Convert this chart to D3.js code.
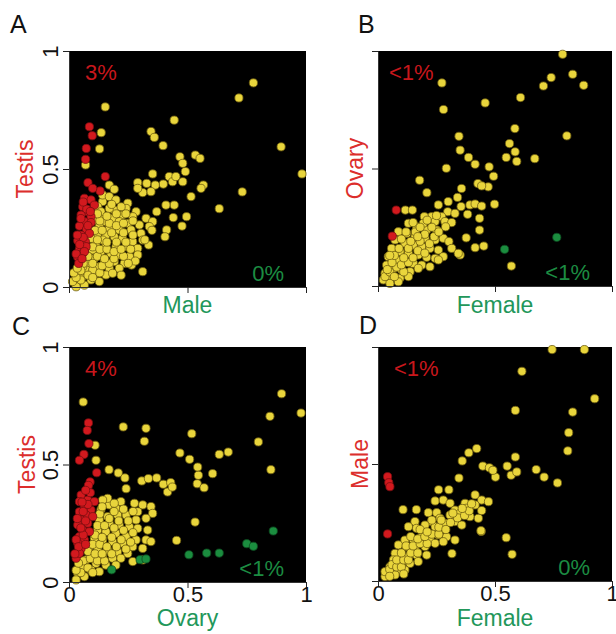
<!DOCTYPE html>
<html>
<head>
<meta charset="utf-8">
<script src="https://cdn.jsdelivr.net/npm/d3@7"></script>
<style>
  body { margin: 0; background: #fff; }
  svg { display: block; font-family: "Liberation Sans", Arial, sans-serif; }
</style>
</head>
<body>
<div id="chart"></div>
<script>
// ---- data (both axes 0..1) ----
const panelLetters = ["A", "B", "C", "D"]
const xTitles = ["Male", "Female", "Ovary", "Female"]
const yTitles = ["Testis", "Ovary", "Testis", "Male"]
const pctTop = ["3%", "<1%", "4%", "<1%"]
const pctBottom = ["0%", "<1%", "<1%", "0%"]
const tickValues = [0, 0.5, 1]
const tickLabels = ["0", "0.5", "1"]

// panel A : testis vs male
const aYellow = [[0.778,0.865],[0.717,0.801],[0.153,0.763],[0.444,0.707],[0.895,0.594],[0.983,0.479],[0.731,0.403],[0.634,0.332],
  [0.136,0.654],[0.129,0.585],[0.346,0.659],[0.360,0.634],[0.397,0.599],[0.468,0.552],[0.480,0.524],[0.533,0.559],[0.553,0.545],
  [0.491,0.489],[0.353,0.479],[0.423,0.468],[0.437,0.446],[0.451,0.468],[0.480,0.446],[0.398,0.436],[0.290,0.442],[0.328,0.439],
  [0.364,0.432],[0.346,0.404],[0.311,0.400],[0.290,0.418],[0.567,0.432],[0.557,0.418],[0.515,0.383],[0.170,0.432],[0.191,0.414],
  [0.444,0.347],[0.409,0.347],[0.370,0.319],[0.496,0.298],[0.440,0.294],[0.477,0.258],[0.412,0.242],[0.405,0.213],[0.311,0.065],
  [0.336,0.178],[0.264,0.093],[0.070,0.517],[0.142,0.362],
  [0.248,0.355],[0.241,0.333],[0.283,0.319],[0.269,0.298],[0.325,0.291],[0.353,0.277],[0.226,0.305],[0.191,0.326],[0.170,0.333],
  [0.142,0.298],[0.184,0.291],[0.212,0.277],[0.248,0.270],[0.297,0.263],[0.339,0.256],[0.262,0.242],[0.304,0.227],[0.212,0.242],
  [0.170,0.249],[0.128,0.263],[0.121,0.227],[0.156,0.220],[0.191,0.213],[0.226,0.206],[0.269,0.192],[0.311,0.199],[0.290,0.164],
  [0.241,0.171],[0.198,0.171],[0.156,0.178],[0.114,0.185],[0.100,0.157],[0.135,0.150],[0.177,0.143],[0.212,0.136],[0.255,0.129],
  [0.290,0.136],[0.233,0.100],[0.191,0.107],[0.149,0.114],[0.107,0.121],[0.086,0.100],[0.128,0.086],[0.170,0.079],[0.212,0.079],
  [0.072,0.072],[0.114,0.058],[0.156,0.051],[0.058,0.044],[0.093,0.030],[0.037,0.023],[0.065,0.008],[0.030,0.001],[0.128,0.023],
  [0.184,0.058],[0.100,0.072],[0.142,0.390],[0.170,0.383],[0.198,0.369],[0.121,0.340],[0.135,0.319],[0.156,0.277],[0.114,0.284],
  [0.142,0.199],[0.079,0.129],[0.093,0.206],[0.058,0.086],[0.044,0.058],[0.015,0.023],
  [0.050,0.030],[0.080,0.050],[0.100,0.040],[0.130,0.060],[0.060,0.100],[0.100,0.100],[0.140,0.090],[0.170,0.100],[0.080,0.130],
  [0.120,0.130],[0.150,0.120],[0.190,0.120],[0.230,0.130],[0.100,0.170],[0.130,0.160],[0.160,0.160],[0.190,0.150],[0.220,0.160],
  [0.260,0.160],[0.120,0.200],[0.160,0.190],[0.200,0.190],[0.240,0.190],[0.110,0.240],[0.140,0.240],[0.180,0.230],[0.230,0.230],
  [0.270,0.220],[0.130,0.280],[0.170,0.270],[0.200,0.260],[0.230,0.270],[0.270,0.280],[0.160,0.300],[0.200,0.310],[0.240,0.310],
  [0.120,0.310],[0.180,0.350],[0.220,0.340],[0.030,0.040],[0.020,0.060],[0.050,0.070],[0.350,0.240],[0.320,0.200],[0.280,0.110],
  [0.250,0.100],[0.220,0.050],[0.035,0.080]]
const aRed = [[0.086,0.679],[0.098,0.641],[0.073,0.587],[0.070,0.541],[0.153,0.468],[0.080,0.442],[0.131,0.407],[0.100,0.418],
  [0.065,0.376],[0.093,0.369],[0.107,0.347],[0.058,0.340],[0.079,0.319],[0.051,0.305],[0.093,0.298],[0.065,0.277],[0.093,0.273],
  [0.044,0.258],[0.074,0.244],[0.051,0.220],[0.086,0.227],[0.037,0.196],[0.069,0.192],[0.044,0.160],[0.072,0.171],[0.037,0.126],
  [0.058,0.143],[0.041,0.100],[0.060,0.210],[0.080,0.260],[0.050,0.290],[0.075,0.330],[0.045,0.180],[0.065,0.150],[0.030,0.140],
  [0.055,0.120],[0.035,0.220],[0.090,0.320],[0.060,0.360]]
const aGreen = []

// panel B : ovary vs female
const bYellow = [[0.789,0.986],[0.740,0.887],[0.707,0.851],[0.832,0.901],[0.879,0.854],[0.609,0.802],[0.458,0.779],[0.273,0.864],
  [0.280,0.751],[0.585,0.670],[0.807,0.639],[0.346,0.637],[0.351,0.578],[0.562,0.606],[0.586,0.571],[0.593,0.530],[0.548,0.547],
  [0.670,0.542],[0.387,0.547],[0.415,0.518],[0.475,0.507],[0.494,0.467],[0.471,0.422],[0.292,0.501],[0.178,0.450],[0.209,0.397],
  [0.427,0.436],[0.443,0.426],[0.357,0.415],[0.498,0.348],[0.434,0.288],[0.434,0.238],[0.377,0.205],[0.415,0.163],[0.452,0.170],
  [0.351,0.132],[0.570,0.085],[0.117,0.323],[0.147,0.323],
  [0.258,0.345],[0.300,0.359],[0.340,0.377],[0.355,0.338],[0.393,0.345],[0.415,0.349],[0.443,0.340],[0.298,0.316],[0.329,0.309],
  [0.272,0.295],[0.229,0.295],[0.383,0.305],[0.198,0.295],[0.244,0.274],[0.286,0.274],[0.315,0.270],[0.130,0.267],[0.165,0.252],
  [0.208,0.238],[0.251,0.238],[0.289,0.252],[0.194,0.267],[0.087,0.231],[0.123,0.224],[0.158,0.210],[0.201,0.203],[0.244,0.196],
  [0.279,0.203],[0.303,0.189],[0.073,0.196],[0.115,0.182],[0.151,0.174],[0.187,0.167],[0.222,0.160],[0.258,0.153],[0.315,0.160],
  [0.343,0.139],[0.058,0.160],[0.094,0.146],[0.130,0.139],[0.172,0.132],[0.208,0.122],[0.244,0.118],[0.279,0.125],[0.044,0.125],
  [0.080,0.111],[0.115,0.104],[0.151,0.096],[0.187,0.089],[0.222,0.082],[0.258,0.111],[0.037,0.089],[0.066,0.075],[0.101,0.068],
  [0.137,0.061],[0.172,0.075],[0.030,0.054],[0.058,0.040],[0.094,0.033],[0.130,0.040],[0.023,0.026],[0.051,0.011],[0.087,0.018],
  [0.030,0.040],[0.050,0.060],[0.070,0.040],[0.040,0.070],[0.080,0.080],[0.110,0.060],[0.060,0.100],[0.100,0.090],[0.130,0.100],
  [0.070,0.130],[0.110,0.120],[0.150,0.120],[0.090,0.160],[0.130,0.160],[0.170,0.150],[0.200,0.140],[0.100,0.200],[0.140,0.190],
  [0.180,0.190],[0.220,0.180],[0.120,0.230],[0.160,0.230],[0.200,0.220],[0.240,0.210],[0.150,0.270],[0.180,0.250],[0.230,0.250],
  [0.260,0.230],[0.210,0.280],[0.250,0.300],[0.170,0.210],[0.050,0.130]]
const bRed = [[0.078,0.323],[0.061,0.212]]
const bGreen = [[0.541,0.156],[0.764,0.207]]

// panel C : testis vs ovary
const cYellow = [[0.060,0.766],[0.897,0.801],[0.848,0.705],[0.979,0.719],[0.229,0.660],[0.325,0.654],[0.318,0.599],[0.518,0.631],
  [0.799,0.596],[0.468,0.549],[0.509,0.522],[0.634,0.543],[0.672,0.553],[0.852,0.478],[0.606,0.461],[0.543,0.489],[0.546,0.454],
  [0.541,0.418],[0.570,0.401],[0.169,0.478],[0.208,0.464],[0.236,0.443],[0.241,0.397],[0.307,0.430],[0.335,0.440],[0.370,0.443],
  [0.398,0.416],[0.429,0.423],[0.416,0.383],[0.436,0.404],[0.110,0.582],[0.114,0.518],[0.532,0.255],[0.454,0.177],
  [0.219,0.342],[0.170,0.328],[0.135,0.308],[0.198,0.313],[0.276,0.335],[0.311,0.328],[0.346,0.321],[0.290,0.299],[0.353,0.292],
  [0.325,0.271],[0.283,0.264],[0.241,0.285],[0.205,0.285],[0.163,0.278],[0.128,0.264],[0.170,0.250],[0.212,0.243],[0.255,0.235],
  [0.290,0.228],[0.332,0.221],[0.121,0.221],[0.156,0.214],[0.198,0.207],[0.241,0.193],[0.283,0.179],[0.325,0.179],[0.346,0.172],
  [0.107,0.186],[0.142,0.179],[0.184,0.172],[0.226,0.165],[0.269,0.150],[0.311,0.143],[0.086,0.150],[0.121,0.143],[0.163,0.136],
  [0.205,0.128],[0.248,0.121],[0.100,0.115],[0.142,0.108],[0.184,0.101],[0.219,0.101],[0.072,0.094],[0.114,0.079],[0.156,0.072],
  [0.198,0.072],[0.058,0.065],[0.093,0.051],[0.037,0.037],[0.065,0.023],[0.030,0.009],[0.128,0.044],[0.269,0.087],[0.311,0.094],
  [0.163,0.356],[0.191,0.335],[0.142,0.349],
  [0.050,0.040],[0.080,0.060],[0.100,0.040],[0.060,0.090],[0.090,0.100],[0.120,0.090],[0.150,0.090],[0.080,0.130],[0.110,0.120],
  [0.140,0.120],[0.180,0.120],[0.100,0.160],[0.130,0.160],[0.160,0.150],[0.200,0.150],[0.240,0.140],[0.110,0.200],[0.140,0.190],
  [0.180,0.190],[0.220,0.180],[0.260,0.170],[0.120,0.240],[0.150,0.240],[0.190,0.230],[0.230,0.220],[0.270,0.210],[0.130,0.290],
  [0.170,0.270],[0.210,0.260],[0.250,0.260],[0.140,0.320],[0.190,0.300],[0.230,0.310],[0.270,0.300],[0.030,0.050],[0.040,0.080]]
const cRed = [[0.082,0.677],[0.077,0.645],[0.084,0.589],[0.063,0.543],[0.044,0.518],[0.117,0.465],[0.089,0.426],[0.082,0.411],
  [0.051,0.370],[0.079,0.349],[0.107,0.342],[0.044,0.342],[0.065,0.321],[0.093,0.306],[0.044,0.299],[0.072,0.285],[0.100,0.278],
  [0.051,0.264],[0.079,0.250],[0.037,0.243],[0.058,0.221],[0.086,0.214],[0.044,0.193],[0.065,0.179],[0.037,0.165],[0.051,0.143],
  [0.030,0.101],[0.044,0.122],[0.060,0.200],[0.050,0.230],[0.070,0.260],[0.060,0.300],[0.080,0.330],[0.055,0.340],[0.030,0.180],
  [0.040,0.150],[0.070,0.160],[0.025,0.120],[0.035,0.270],[0.090,0.380],[0.070,0.390]]
const cGreen = [[0.506,0.116],[0.581,0.123],[0.634,0.123],[0.750,0.163],[0.778,0.152],[0.862,0.217],[0.300,0.095],[0.325,0.098],
  [0.180,0.052]]

// panel D : male vs female
const dYellow = [[0.744,0.989],[0.882,0.989],[0.615,0.896],[0.926,0.779],[0.587,0.729],[0.832,0.722],[0.815,0.634],[0.811,0.556],
  [0.587,0.530],[0.676,0.476],[0.710,0.444],[0.767,0.419],[0.552,0.491],[0.569,0.452],[0.593,0.466],[0.448,0.491],[0.476,0.484],
  [0.502,0.444],[0.491,0.473],[0.360,0.513],[0.388,0.548],[0.422,0.566],[0.346,0.440],[0.259,0.390],[0.303,0.390],[0.548,0.185],
  [0.573,0.114],[0.441,0.212],[0.316,0.117],[0.107,0.305],[0.164,0.305],
  [0.244,0.342],[0.279,0.346],[0.308,0.332],[0.215,0.292],[0.251,0.292],[0.329,0.303],[0.372,0.332],[0.415,0.368],[0.443,0.346],
  [0.472,0.339],[0.415,0.325],[0.379,0.311],[0.350,0.289],[0.393,0.275],[0.429,0.268],[0.443,0.301],[0.308,0.282],[0.265,0.268],
  [0.229,0.254],[0.201,0.239],[0.158,0.254],[0.130,0.232],[0.165,0.225],[0.244,0.232],[0.286,0.246],[0.329,0.254],[0.358,0.239],
  [0.440,0.215],[0.329,0.175],[0.293,0.189],[0.258,0.197],[0.222,0.182],[0.187,0.189],[0.151,0.175],[0.115,0.175],[0.087,0.154],
  [0.123,0.147],[0.158,0.140],[0.201,0.147],[0.244,0.161],[0.279,0.168],[0.208,0.111],[0.165,0.111],[0.130,0.104],[0.094,0.111],
  [0.073,0.118],[0.066,0.090],[0.101,0.075],[0.137,0.075],[0.172,0.083],[0.051,0.061],[0.087,0.047],[0.044,0.033],[0.030,0.019],
  [0.073,0.026],[0.115,0.047],
  [0.030,0.040],[0.050,0.050],[0.060,0.070],[0.080,0.060],[0.100,0.060],[0.080,0.090],[0.110,0.090],[0.130,0.090],[0.100,0.120],
  [0.140,0.120],[0.170,0.120],[0.120,0.150],[0.150,0.150],[0.180,0.160],[0.210,0.160],[0.140,0.190],[0.170,0.180],[0.200,0.190],
  [0.230,0.200],[0.260,0.200],[0.180,0.220],[0.210,0.210],[0.260,0.230],[0.290,0.220],[0.230,0.260],[0.270,0.260],[0.310,0.250],
  [0.340,0.270],[0.320,0.290],[0.370,0.280],[0.390,0.300],[0.360,0.310],[0.400,0.330],[0.050,0.020],[0.110,0.030]]
const dRed = [[0.041,0.446],[0.046,0.420],[0.051,0.403],[0.041,0.201]]
const dGreen = []

const yellowSets = [aYellow, bYellow, cYellow, dYellow]
const redSets = [aRed, bRed, cRed, dRed]
const greenSets = [aGreen, bGreen, cGreen, dGreen]

// ---- layout ----
const W = 616, H = 634
const font = 22
const panels = [
  { x0: 69, y0: 51, w: 237, h: 236, letter: [10, 33], yTick: true, xTick: false, yTitleOff: 36, xTitleOff: 26, topOff: 16 },
  { x0: 378, y0: 51, w: 234, h: 235, letter: [358, 33], yTick: false, xTick: false, yTitleOff: 15, xTitleOff: 27, topOff: 11 },
  { x0: 69, y0: 347, w: 237, h: 235, letter: [12, 335], yTick: true, xTick: true, yTitleOff: 34, xTitleOff: 44, topOff: 16 },
  { x0: 378, y0: 347, w: 234, h: 234, letter: [359, 334], yTick: false, xTick: true, yTitleOff: 10, xTitleOff: 45, topOff: 16 }
]

const svg = d3.select('#chart').append('svg')
  .attr('width', W)
  .attr('height', H)

panels.forEach((p, i) => {
  const x = d3.scaleLinear().domain([0, 1]).range([p.x0, p.x0 + p.w])
  const y = d3.scaleLinear().domain([0, 1]).range([p.y0 + p.h, p.y0])
  const g = svg.append('g').attr('class', 'panel')

  g.append('rect')
    .attr('x', p.x0).attr('y', p.y0)
    .attr('width', p.w).attr('height', p.h)
    .attr('fill', '#000')

  // points: yellow underneath, coloured outliers on top
  const dots = (data, fill, stroke) => g.append('g')
    .selectAll('circle')
    .data(data)
    .enter()
    .append('circle')
    .attr('cx', d => x(d[0]))
    .attr('cy', d => y(d[1]))
    .attr('r', 4.1)
    .attr('fill', fill)
    .attr('stroke', stroke)
    .attr('stroke-width', 0.8)
  dots(yellowSets[i], '#e9d53c', '#6e5e10')
  dots(redSets[i], '#d2191e', '#7a0e10')
  dots(greenSets[i], '#1b8d3f', '#0d4a20')

  // axes
  const yAxis = d3.axisLeft(y).tickValues(tickValues).tickSize(6).tickSizeOuter(0)
    .tickFormat((d, k) => p.yTick ? tickLabels[k] : '')
  const ya = g.append('g').attr('transform', 'translate(' + p.x0 + ',0)').call(yAxis)
  ya.selectAll('text')
    .attr('transform', 'rotate(-90)')
    .attr('x', 0).attr('y', -11).attr('dy', 0)
    .style('text-anchor', 'middle')

  const xAxis = d3.axisBottom(x).tickValues(tickValues).tickSize(6).tickSizeOuter(0)
    .tickFormat((d, k) => p.xTick ? tickLabels[k] : '')
  const xa = g.append('g').attr('transform', 'translate(0,' + (p.y0 + p.h) + ')').call(xAxis)
  xa.selectAll('text').attr('y', 20).attr('dy', 0)

  svg.selectAll('.tick text').attr('font-size', font).attr('fill', '#111').attr('font-family', null)
  svg.selectAll('.tick line').attr('stroke', '#222')
  svg.selectAll('.domain').attr('stroke', '#333')

  // titles
  g.append('text')
    .attr('transform', 'translate(' + (p.x0 - p.yTitleOff) + ',' + (p.y0 + p.h / 2) + ') rotate(-90)')
    .attr('text-anchor', 'middle')
    .attr('font-size', 23)
    .attr('fill', '#dc2e2c')
    .text(yTitles[i])

  g.append('text')
    .attr('x', p.x0 + p.w / 2)
    .attr('y', p.y0 + p.h + p.xTitleOff)
    .attr('text-anchor', 'middle')
    .attr('font-size', 23)
    .attr('fill', '#22975a')
    .text(xTitles[i])

  g.append('text')
    .attr('x', p.x0 + p.topOff)
    .attr('y', p.y0 + 29)
    .attr('font-size', font)
    .attr('fill', '#c8171c')
    .text(pctTop[i])

  g.append('text')
    .attr('x', p.x0 + p.w - 22)
    .attr('y', p.y0 + p.h - 6)
    .attr('text-anchor', 'end')
    .attr('font-size', font)
    .attr('fill', '#1c8c42')
    .text(pctBottom[i])

  svg.append('text')
    .attr('x', p.letter[0])
    .attr('y', p.letter[1])
    .attr('font-size', 25)
    .attr('fill', '#111')
    .text(panelLetters[i])
})
</script>
</body>
</html>
